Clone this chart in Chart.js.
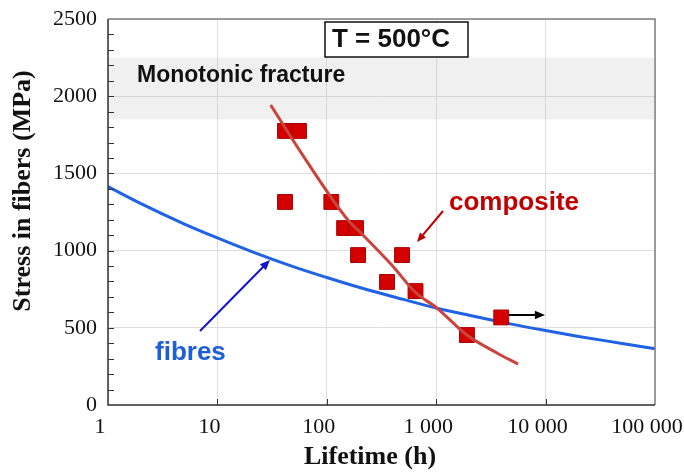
<!DOCTYPE html>
<html>
<head>
<meta charset="utf-8">
<script src="https://cdn.jsdelivr.net/npm/chart.js@4.4.0/dist/chart.umd.min.js"></script>
<style>
  html, body { margin: 0; padding: 0; background: #fff; }
  #wrap { width: 684px; height: 472px; }
</style>
</head>
<body>
<div id="wrap"><canvas id="myChart" width="684" height="472"></canvas></div>
<script>
// composite test points (lifetime h, stress MPa)
const compLife = [41.5, 55.7, 41.5, 110, 144, 185, 193, 487, 355, 647, 1910, 3930];
const compStress = [1775, 1775, 1315, 1315, 1146, 1146, 971, 971, 797, 738, 453, 567];

// composite fit curve
const fitLife = [30.7, 60, 156, 201, 400, 640, 1016, 1905, 3597, 5597];
const fitStress = [1943, 1620, 1198, 1120, 900, 732, 628, 453, 337, 265];

// fibres curve
const fibLife = [1, 2, 5, 10, 20, 50, 100, 200, 500, 1000, 2000, 5000, 10000, 20000, 50000, 100000];
const fibStress = [1414, 1304, 1172, 1082, 997, 895, 826, 761, 684, 628, 581, 522, 482, 444, 399, 365];

const yTicks = [0, 500, 1000, 1500, 2000, 2500];
const xTicks = [1, 10, 100, 1000, 10000, 100000];
const xTickLabels = ["1", "10", "100", "1 000", "10 000", "100 000"];

const bandLow = 1850;
const bandHigh = 2250;

function pts(xs, ys) {
     let out = [];
     for (let i = 0; i < xs.length; i++) {
          out.push({ x: xs[i], y: ys[i] });
     }
     return out;
}

function arrow(ctx, x1, y1, x2, y2, color, head, width) {
     let a = Math.atan2(y2 - y1, x2 - x1);
     ctx.save();
     ctx.strokeStyle = color;
     ctx.fillStyle = color;
     ctx.lineWidth = width;
     ctx.beginPath();
     ctx.moveTo(x1, y1);
     ctx.lineTo(x2 - Math.cos(a) * head * 0.8, y2 - Math.sin(a) * head * 0.8);
     ctx.stroke();
     ctx.beginPath();
     ctx.moveTo(x2, y2);
     ctx.lineTo(x2 - head * Math.cos(a - 0.4), y2 - head * Math.sin(a - 0.4));
     ctx.lineTo(x2 - head * Math.cos(a + 0.4), y2 - head * Math.sin(a + 0.4));
     ctx.closePath();
     ctx.fill();
     ctx.restore();
}

const decor = {
     id: "decor",
     beforeDatasetsDraw(chart) {
          const ctx = chart.ctx;
          const a = chart.chartArea;
          const y = chart.scales.y;
          // monotonic fracture band
          let top = y.getPixelForValue(bandHigh);
          let bot = y.getPixelForValue(bandLow);
          ctx.save();
          ctx.fillStyle = "rgba(200,200,200,0.28)";
          ctx.fillRect(a.left, top, a.right - a.left, bot - top);
          ctx.restore();
     },
     afterDraw(chart) {
          const ctx = chart.ctx;
          const a = chart.chartArea;
          const x = chart.scales.x;
          const y = chart.scales.y;
          ctx.save();
          // frame
          ctx.strokeStyle = "#808080";
          ctx.lineWidth = 1.5;
          ctx.beginPath();
          ctx.moveTo(a.left, a.top);
          ctx.lineTo(a.right, a.top);
          ctx.lineTo(a.right, a.bottom);
          ctx.stroke();
          ctx.strokeStyle = "#333";
          ctx.beginPath();
          ctx.moveTo(a.left, a.top);
          ctx.lineTo(a.left, a.bottom);
          ctx.lineTo(a.right, a.bottom);
          ctx.stroke();
          // minor ticks
          ctx.lineWidth = 1;
          for (let v = 100; v < 2500; v += 100) {
               let py = Math.round(y.getPixelForValue(v)) + 0.5;
               ctx.beginPath();
               ctx.moveTo(a.left, py);
               ctx.lineTo(a.left + 6, py);
               ctx.stroke();
          }
          for (let i = 1; i < xTicks.length - 1; i++) {
               let px = Math.round(x.getPixelForValue(xTicks[i])) + 0.5;
               ctx.beginPath();
               ctx.moveTo(px, a.bottom);
               ctx.lineTo(px, a.bottom - 6);
               ctx.stroke();
          }

          // axis titles
          ctx.fillStyle = "#111";
          ctx.font = "bold 26px 'Liberation Serif'";
          ctx.textAlign = "center";
          ctx.textBaseline = "middle";
          ctx.fillText("Lifetime (h)", 370, 457);
          ctx.save();
          ctx.translate(23, 191);
          ctx.rotate(-Math.PI / 2);
          ctx.fillText("Stress in fibers (MPa)", 0, 0);
          ctx.restore();

          // T box
          ctx.fillStyle = "#fff";
          ctx.fillRect(325, 22, 143, 35);
          ctx.strokeStyle = "#111";
          ctx.lineWidth = 1.5;
          ctx.strokeRect(325, 22, 143, 35);
          ctx.fillStyle = "#111";
          ctx.font = "bold 26px 'Liberation Sans'";
          ctx.fillText("T = 500°C", 391, 40);

          ctx.textAlign = "left";
          ctx.font = "bold 23px 'Liberation Sans'";
          ctx.fillText("Monotonic fracture", 137, 76);

          ctx.fillStyle = "#C00000";
          ctx.font = "bold 26px 'Liberation Sans'";
          ctx.fillText("composite", 449, 203);
          arrow(ctx, 443, 211, 417, 242, "#C00000", 10, 2);

          ctx.fillStyle = "#1F5FD6";
          ctx.fillText("fibres", 155, 353);
          arrow(ctx, 200, 331, 270, 260, "#1414C8", 11, 2);

          arrow(ctx, 509, 315, 545, 315, "#000", 11, 2);
          ctx.restore();
     }
};

const ctx = document.getElementById("myChart").getContext("2d");
var chart = new Chart(ctx, {
     type: "scatter",
     data: {
          datasets: [
               {
                    label: "composite fit",
                    data: pts(fitLife, fitStress),
                    showLine: true,
                    borderColor: "#C8443C",
                    borderWidth: 3,
                    pointRadius: 0,
                    cubicInterpolationMode: "monotone"
               },
               {
                    label: "composite",
                    data: pts(compLife, compStress),
                    pointStyle: "rect",
                    pointRadius: 10.5,
                    backgroundColor: "#D40000",
                    borderColor: "#A80000",
                    borderWidth: 1
               },
               {
                    label: "fibres",
                    data: pts(fibLife, fibStress),
                    showLine: true,
                    borderColor: "#1F62E6",
                    borderWidth: 3,
                    pointRadius: 0,
                    cubicInterpolationMode: "monotone"
               }
          ]
     },
     options: {
          responsive: false,
          animation: false,
          layout: { padding: { left: 0, top: 19, right: 29, bottom: 0 } },
          plugins: { legend: { display: false }, tooltip: { enabled: false } },
          scales: {
               x: {
                    type: "logarithmic",
                    min: 1,
                    max: 100000,
                    afterBuildTicks: (s) => { s.ticks = xTicks.map(v => ({ value: v })); },
                    afterFit: (s) => { s.height = 67; s.paddingLeft = 0; s.paddingRight = 0; },
                    ticks: {
                         autoSkip: false,
                         maxRotation: 0,
                         color: "#111",
                         font: { family: "Liberation Serif", size: 22 },
                         padding: 9,
                         labelOffset: -8,
                         callback: (v) => xTickLabels[xTicks.indexOf(v)]
                    },
                    grid: { color: "#DDDDDD", drawTicks: false },
                    border: { display: false }
               },
               y: {
                    min: 0,
                    max: 2500,
                    afterBuildTicks: (s) => { s.ticks = yTicks.map(v => ({ value: v })); },
                    afterFit: (s) => { s.width = 108; s.paddingTop = 0; s.paddingBottom = 0; },
                    ticks: {
                         color: "#111",
                         font: { family: "Liberation Serif", size: 22 },
                         padding: 11,
                         callback: (v) => String(v)
                    },
                    grid: { color: "#DDDDDD", drawTicks: false },
                    border: { display: false }
               }
          }
     },
     plugins: [decor]
});
</script>
</body>
</html>
